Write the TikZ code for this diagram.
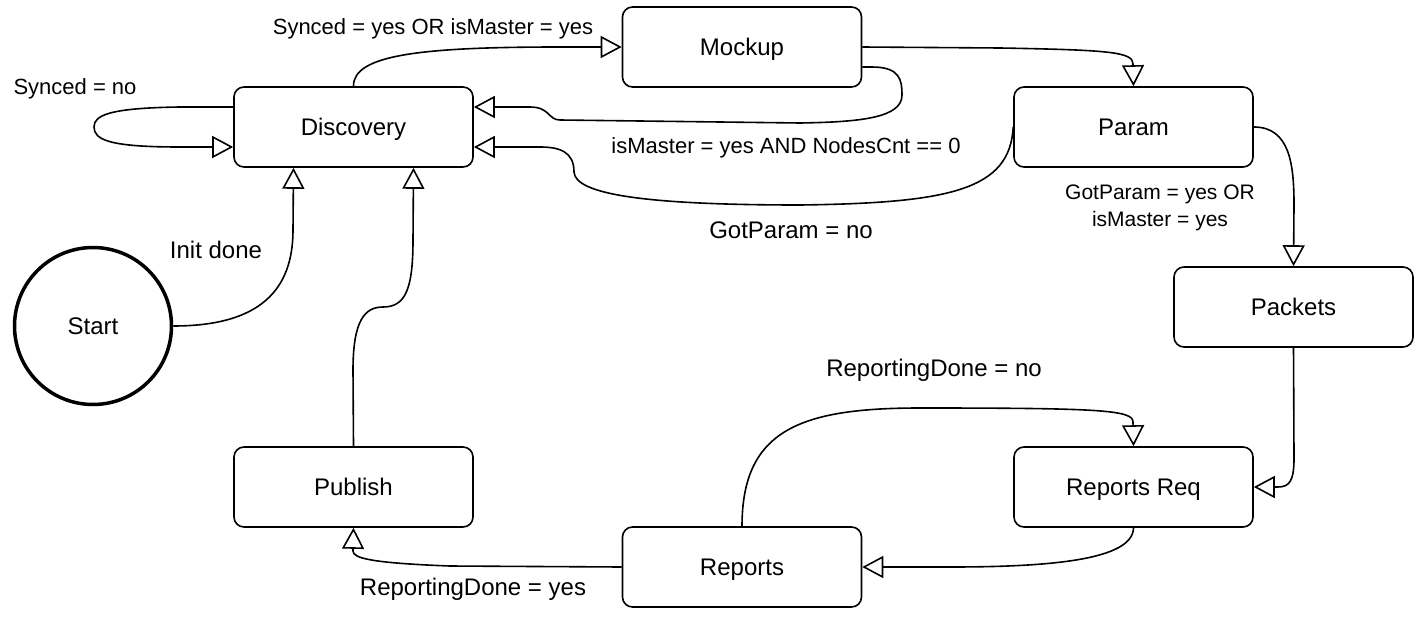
\documentclass[tikz,border=0pt]{standalone}
\usepackage{fontspec}
\setmainfont{Liberation Sans}
\usetikzlibrary{arrows.meta}
\begin{document}
\begin{tikzpicture}[x=1pt,y=-1pt,
  state/.style={draw, line width=1.6pt, rounded corners=10pt, minimum width=239pt, minimum height=80pt, inner sep=0pt, text depth=0pt, font=\fontsize{24}{28}\selectfont},
  startnode/.style={draw, circle, line width=3.5pt, minimum size=157pt, inner sep=0pt, text depth=0pt, font=\fontsize{24}{28}\selectfont},
  edge/.style={line width=1.6pt, -{Triangle[open,length=21pt,width=22pt,line width=1.6pt]}},
  lbl/.style={font=\fontsize{22}{29}\selectfont, inner sep=0pt},
  lblbig/.style={font=\fontsize{24}{29}\selectfont, inner sep=0pt}]
\useasboundingbox (0,0) rectangle (1423,623);
\node[state] (disc) at (353.5,127) {Discovery};
\node[state] (mock) at (742,47) {Mockup};
\node[state] (param) at (1133.5,127) {Param};
\node[state] (pack) at (1293.5,307) {Packets};
\node[state] (rreq) at (1133.5,487) {Reports Req};
\node[state] (rep) at (742,567) {Reports};
\node[state] (pub) at (353.5,487) {Publish};
\node[startnode] (start) at (93,326) {Start};
% self loop
\draw[edge] ([yshift=20pt]disc.west) -- (180,107) .. controls (110,108) and (94,115) .. (94,127) .. controls (94,140) and (110,147) .. (180,147) -- ([yshift=-20pt]disc.west);
% discovery -> mockup
\draw[edge] (disc.north) .. controls (353,55) and (420,47) .. (560,47) -- (mock.west);
% mockup -> discovery
\draw[edge] ([yshift=-20pt]mock.east) -- (872,67) .. controls (900,67) and (902,80) .. (902,95) .. controls (902,118) and (860,122) .. (800,123) -- (560,120) .. controls (548,120) and (550,107) .. (530,107) -- ([yshift=20pt]disc.east);
% mockup -> param
\draw[edge] (mock.east) -- (1000,48) .. controls (1110,50) and (1133,52) .. (1133,64) -- (param.north);
% param -> discovery
\draw[edge] (param.west) .. controls (1010,190) and (950,203) .. (800,205) .. controls (650,205) and (575,195) .. (574,172) .. controls (574,152) and (560,147) .. (540,147) -- ([yshift=-20pt]disc.east);
% param -> packets
\draw[edge] (param.east) .. controls (1290,127) and (1294,165) .. (1294,205) -- (pack.north);
% packets -> reports req
\draw[edge] (pack.south) -- (1294,458) .. controls (1294,480) and (1290,487) .. (1278,487) -- (rreq.east);
% reports req -> reports
\draw[edge] (rreq.south) .. controls (1133,560) and (1050,567) .. (950,567) -- (rep.east);
% reports -> reports req
\draw[edge] (rep.north) .. controls (742,430) and (800,408) .. (920,408) .. controls (1100,408) and (1133,410) .. (1133,422) -- (rreq.north);
% reports -> publish
\draw[edge] (rep.west) -- (450,566) .. controls (370,563) and (353,558) .. (353,551) -- (pub.south);
% publish -> discovery
\draw[edge] (pub.north) -- (353,370) .. controls (353,320) and (365,307) .. (383,307) .. controls (405,307) and (413,290) .. (413,240) -- ([xshift=60pt]disc.south);
% start -> discovery
\draw[edge] (start.east) .. controls (260,326) and (293,290) .. (293,230) -- ([xshift=-60pt]disc.south);
% labels
\node[lbl] (l1) at (75,89) {Synced = no};
\node[lbl] (l2) at (433,29) {Synced = yes OR isMaster = yes};
\node[lbl] (l3) at (786,148) {isMaster = yes AND NodesCnt == 0};
\node[lblbig] (l4) at (791,230) {GotParam = no};
\node[font=\fontsize{21}{27}\selectfont, inner sep=0pt, align=center] (l5) at (1160,208) {GotParam = yes OR\\isMaster = yes};
\node[lblbig] (l6) at (216,250) {Init done};
\node[lblbig] (l7) at (934,370) {ReportingDone = no};
\node[lblbig] (l8) at (473,589) {ReportingDone = yes};
\end{tikzpicture}
\end{document}
